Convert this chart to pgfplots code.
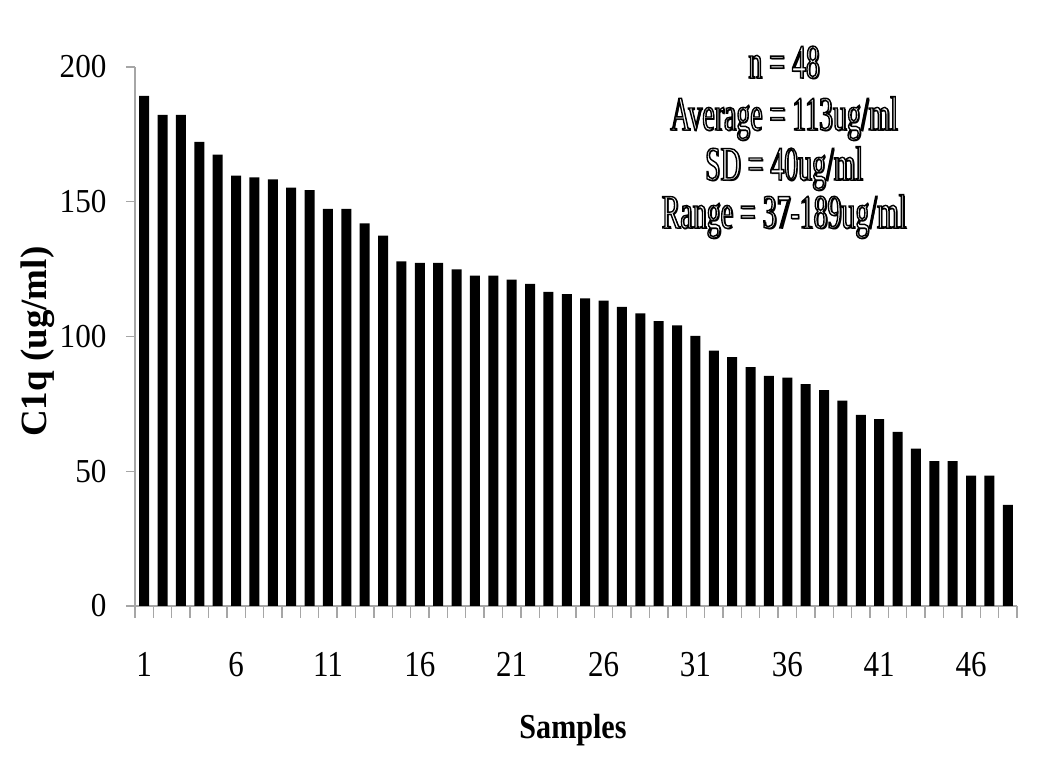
\documentclass[border=0pt]{standalone}
\usepackage{fontspec}
\setmainfont{Liberation Serif}
\newfontfamily\ytickfont{Liberation Serif}[FakeStretch=0.93]
\newfontfamily\xtickfont{Liberation Serif}[FakeStretch=0.85]
\newfontfamily\samplesfont{Liberation Serif}[FakeStretch=0.86]
\newfontfamily\statfont{Liberation Serif}[FakeStretch=0.58]
\usepackage{pgfplots}
\pgfplotsset{compat=1.18}
\definecolor{axgray}{HTML}{A6A6A6}
\newcommand\outl[1]{\special{pdf:literal direct 2 Tr 1.4 w 1 g 0 G}#1\special{pdf:literal direct 0 Tr 0 g 0 G}}
\newcommand\stat[1]{\statfont\fontsize{48}{50}\selectfont #1}
\newcommand\statline[2]{%
  \node[anchor=base, inner sep=0pt, xshift=1.5pt, yshift=-1.5pt] at (axis description cs:0.736,#2) {\stat{#1}};
  \node[anchor=base, inner sep=0pt] at (axis description cs:0.736,#2) {\stat{\outl{#1}}};}
\begin{document}
\begin{tikzpicture}
\useasboundingbox (0,0) rectangle (1050pt,773pt);
\begin{axis}[
  at={(135pt,167pt)}, anchor=south west,
  width=882pt, height=539pt, scale only axis,
  xmin=0.5, xmax=48.5, ymin=0, ymax=200,
  axis x line=bottom, axis y line=left,
  axis line style={-, axgray, line width=1.3pt},
  ybar, bar width=0.54,
  xtick={1,6,...,46},
  minor xtick={0.5,1.5,...,48.5},
  major x tick style={draw=none},
  minor x tick style={axgray, line width=1.3pt},
  minor tick length=12pt,
  ytick={0,50,...,200},
  y tick style={axgray, line width=1.3pt},
  major tick length=9pt,
  tick align=outside,
  /pgf/number format/assume math mode=true,
  xticklabel style={font=\xtickfont\fontsize{36.5}{40}\selectfont, anchor=base, yshift=-62pt},
  yticklabel style={font=\ytickfont\fontsize{33.5}{36}\selectfont, anchor=east, xshift=-16pt},
  xlabel={\samplesfont\bfseries Samples},
  xlabel style={font=\fontsize{35}{40}\selectfont, at={(axis description cs:0.4966,-0.2449)}, anchor=base},
  ylabel={\bfseries C1q (ug/ml)},
  ylabel style={font=\fontsize{37}{40}\selectfont, at={(axis description cs:-0.110,0.4904)}, anchor=center, rotate=0},
  clip=false,
]
\addplot[fill=black, draw=none] coordinates {
(1,189.3) (2,182.2) (3,182.2) (4,172.2) (5,167.5) (6,159.7) (7,159.0) (8,158.3)
(9,155.2) (10,154.3) (11,147.4) (12,147.4) (13,142.0) (14,137.4) (15,127.9) (16,127.3)
(17,127.3) (18,124.9) (19,122.6) (20,122.6) (21,121.1) (22,119.5) (23,116.6) (24,115.7)
(25,114.1) (26,113.3) (27,111.0) (28,108.6) (29,105.7) (30,104.1) (31,100.2) (32,94.8)
(33,92.3) (34,88.6) (35,85.4) (36,84.7) (37,82.3) (38,80.1) (39,76.2) (40,70.9)
(41,69.3) (42,64.6) (43,58.4) (44,53.8) (45,53.8) (46,48.4) (47,48.4) (48,37.5)
};
\statline{n = 48}{0.9796}
\statline{Average = 113ug/ml}{0.8831}
\statline{SD = 40ug/ml}{0.7904}
\statline{Range = 37-189ug/ml}{0.7013}
\end{axis}
\end{tikzpicture}
\end{document}
